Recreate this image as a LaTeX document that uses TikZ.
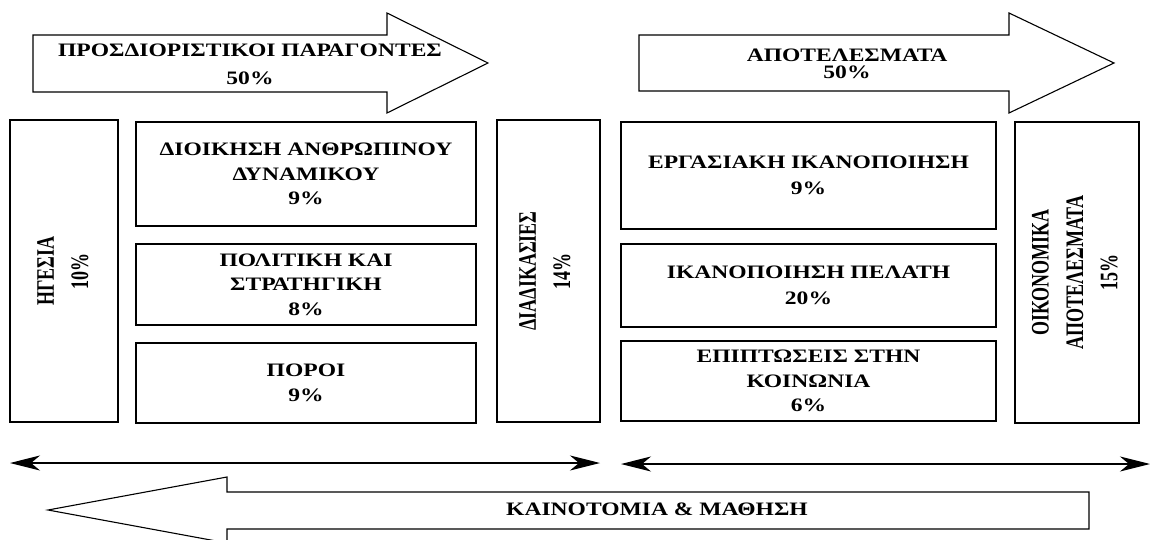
\documentclass[tikz,border=0pt]{standalone}
\usepackage{fontspec}
\setmainfont{Liberation Serif}[FakeStretch=1.24]
\newfontfamily\rotfont{Liberation Serif}
\usetikzlibrary{arrows.meta}
\begin{document}
\begin{tikzpicture}[x=1pt,y=-1pt,
  box/.style={draw=black, line width=1.1pt, inner sep=0pt},
  lbl/.style={font=\bfseries\fontsize{19}{24.5}\selectfont, align=center, inner sep=0pt},
  rotlbl/.style={rotate=90, font=\rotfont\bfseries\fontsize{18}{25}\selectfont, align=center, inner sep=0pt},
  blockarrow/.style={draw=black, line width=1.1pt, fill=white, line join=miter},
  dbl/.style={line width=1.3pt, {Stealth[length=30pt,width=15pt,inset=9pt]}-{Stealth[length=30pt,width=15pt,inset=9pt]}}
]
\clip (0,0) rectangle (1150,540);
\fill[white] (0,0) rectangle (1150,540);

% top block arrows
\draw[blockarrow] (33,35) -- (387,35) -- (387,13) -- (488,63) -- (387,113) -- (387,92) -- (33,92) -- cycle;
\node[lbl, font=\bfseries\fontsize{19}{28}\selectfont] (det) at (250,64) {ΠΡΟΣΔΙΟΡΙΣΤΙΚΟΙ ΠΑΡΑΓΟΝΤΕΣ\\50\%};

\draw[blockarrow] (639,35) -- (1009,35) -- (1009,13) -- (1114,63) -- (1009,113) -- (1009,91) -- (639,91) -- cycle;
\node[lbl, font=\bfseries\fontsize{19}{17}\selectfont] (res) at (847,63.5) {ΑΠΟΤΕΛΕΣΜΑΤΑ\\50\%};

% left group
\node[box, minimum width=108pt, minimum height=302pt] (hgesia) at (64,271) {};
\node[rotlbl] (hgesiaT) at (64,271) {\scalebox{1}[1.4]{\begin{tabular}{@{}c@{}}ΗΓΕΣΙΑ\\[-0.5pt]10\%\end{tabular}}};

\node[box, lbl, minimum width=340pt, minimum height=104pt] (dioik) at (306,174) {ΔΙΟΙΚΗΣΗ ΑΝΘΡΩΠΙΝΟΥ\\ΔΥΝΑΜΙΚΟΥ\\9\%};
\node[box, lbl, minimum width=340pt, minimum height=81pt] (polit) at (306,284.5) {ΠΟΛΙΤΙΚΗ ΚΑΙ\\ΣΤΡΑΤΗΓΙΚΗ\\8\%};
\node[box, lbl, minimum width=340pt, minimum height=80pt] (poroi) at (306,383) {ΠΟΡΟΙ\\9\%};

\node[box, minimum width=103pt, minimum height=302pt] (diad) at (548.5,271) {};
\node[rotlbl] (diadT) at (546,271) {\scalebox{1}[1.4]{\begin{tabular}{@{}c@{}}ΔΙΑΔΙΚΑΣΙΕΣ\\[-0.5pt]14\%\end{tabular}}};

% right group
\node[box, lbl, minimum width=375pt, minimum height=107pt] (ergas) at (808.5,175.5) {ΕΡΓΑΣΙΑΚΗ ΙΚΑΝΟΠΟΙΗΣΗ\\[2pt]9\%};
\node[box, lbl, minimum width=375pt, minimum height=83pt] (ikan) at (808.5,285.5) {ΙΚΑΝΟΠΟΙΗΣΗ ΠΕΛΑΤΗ\\[2pt]20\%};
\node[box, lbl, minimum width=375pt, minimum height=80pt] (epipt) at (808.5,381) {ΕΠΙΠΤΩΣΕΙΣ ΣΤΗΝ\\ΚΟΙΝΩΝΙΑ\\6\%};

\node[box, minimum width=124pt, minimum height=301pt] (oikon) at (1077,272.5) {};
\node[rotlbl] (oikonT) at (1076,272.5) {\scalebox{1}[1.4]{\begin{tabular}{@{}c@{}}ΟΙΚΟΝΟΜΙΚΑ\\[-0.5pt]ΑΠΟΤΕΛΕΣΜΑΤΑ\\[-0.5pt]15\%\end{tabular}}};

% double arrows
\coordinate (a1) at (10,463);
\coordinate (a2) at (600,463);
\coordinate (b1) at (621,464);
\coordinate (b2) at (1150,464);
\draw[dbl] (a1) -- (a2);
\draw[dbl] (b1) -- (b2);

% bottom block arrow
\draw[blockarrow] (1089,492) -- (227,492) -- (227,477) -- (48,510) -- (227,543) -- (227,529) -- (1089,529) -- cycle;
\node[lbl] (innov) at (657,509) {ΚΑΙΝΟΤΟΜΙΑ \& ΜΑΘΗΣΗ};
\end{tikzpicture}
\end{document}
